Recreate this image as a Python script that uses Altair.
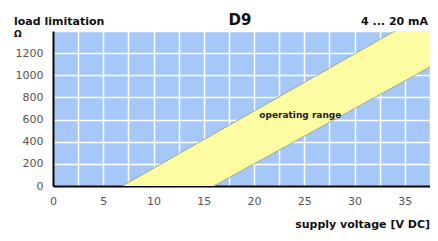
import altair as alt
import pandas as pd

# Operating band corner points (supply voltage V, load Ohm)
band_u = [6.9, 16.0, 34.0, 37.5]
band_hi = [0, 470, 1400, 1400]
band_lo = [0, 0, 900, 1075]

upper_u = [6.9, 34.0]
upper_r = [0, 1400]
lower_u = [16.0, 37.5]
lower_r = [0, 1075]

x_grid = [0, 2.5, 5, 7.5, 10, 12.5, 15, 17.5, 20, 22.5, 25, 27.5, 30, 32.5, 35, 37.5]
y_grid = [0, 200, 400, 600, 800, 1000, 1200, 1400]

FONT = "DejaVu Sans"
BLUE = "#a6c8f8"
YELLOW = "#fdfca2"

band = pd.DataFrame({"u": band_u, "hi": band_hi, "lo": band_lo})
lines = pd.DataFrame({
    "u": upper_u + lower_u,
    "r": upper_r + lower_r,
    "s": ["upper", "upper", "lower", "lower"],
})

xs = alt.Scale(domain=[0, 37.5], nice=False, zero=False)
ys = alt.Scale(domain=[0, 1400], nice=False)

xaxis = alt.Axis(values=x_grid, labelExpr="datum.value % 5 == 0 ? datum.label : ''",
                 format="d", labelOverlap=False,
                 title=None, ticks=False, grid=True, gridColor="white", gridWidth=1.5,
                 domainColor="black", domainWidth=2, labelFont=FONT, labelFontSize=11,
                 labelColor="#555555", labelPadding=9, labelFlush=False)
yaxis = alt.Axis(values=y_grid, labelExpr="datum.value < 1400 ? datum.label : ''",
                 format="d", labelOverlap=False,
                 title=None, ticks=False, grid=True, gridColor="white", gridWidth=1.5,
                 domainColor="black", domainWidth=2, labelFont=FONT, labelFontSize=11,
                 labelColor="#555555", labelPadding=10, labelFlush=False)

area = alt.Chart(band).mark_area(color=YELLOW, opacity=1, clip=True).encode(
    x=alt.X("u:Q", scale=xs, axis=xaxis),
    y=alt.Y("hi:Q", scale=ys, axis=yaxis),
    y2="lo:Q",
)

edges = alt.Chart(lines).mark_line(color="#8f9f86", strokeWidth=0.8, clip=True).encode(
    x=alt.X("u:Q", scale=xs, axis=xaxis),
    y=alt.Y("r:Q", scale=ys, axis=yaxis),
    detail="s:N",
)

label = alt.Chart(pd.DataFrame({"u": [24.6], "r": [640], "t": ["operating range"]})).mark_text(
    font=FONT, fontSize=9, fontWeight="bold", color="#222222"
).encode(x=alt.X("u:Q", scale=xs, axis=xaxis), y=alt.Y("r:Q", scale=ys, axis=yaxis), text="t:N")


def txt(s, x, y, size=11, align="left", weight="bold"):
    return alt.Chart(pd.DataFrame({"t": [s]})).mark_text(
        font=FONT, fontSize=size, fontWeight=weight, align=align, baseline="alphabetic",
        color="#111111"
    ).encode(x=alt.value(x), y=alt.value(y), text="t:N")


texts = [
    txt("load limitation", -39, -6, 11),
    txt("Ω", -39, 6, 9),
    txt("D9", 187, -6, 15, "center"),
    txt("4 ... 20 mA", 375, -6, 11, "right"),
    txt("supply voltage [V DC]", 377, 197, 11, "right"),
]

chart = alt.layer(area, edges, label, *texts).properties(
    width=377, height=155,
    autosize=alt.AutoSizeParams(type="none"),
    padding={"left": 45, "top": 23, "right": 0, "bottom": 47},
).configure_view(fill=BLUE, stroke="#777777", strokeWidth=1)

chart.save("out.html", embed_options={"renderer": "svg", "actions": False})
